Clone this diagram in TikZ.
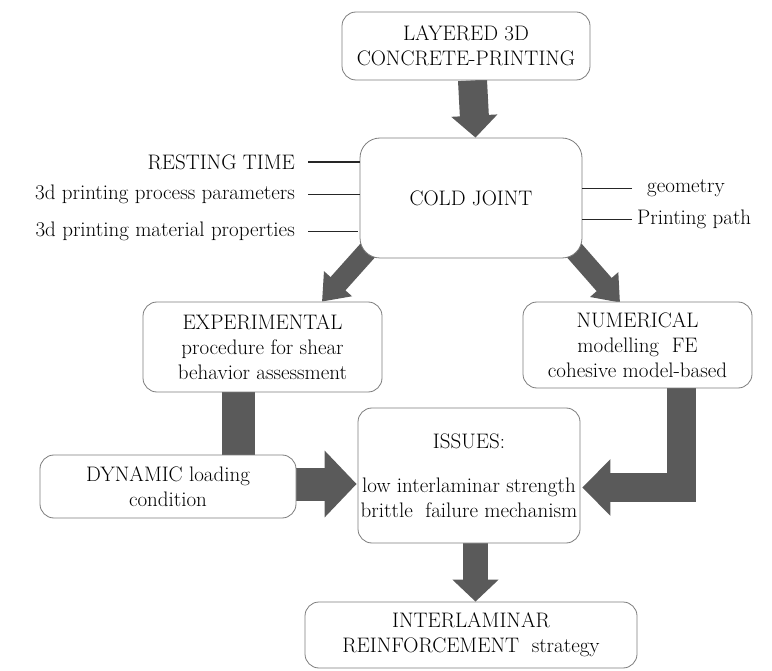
\documentclass[tikz,border=0pt]{standalone}
\usetikzlibrary{arrows.meta,calc}
\definecolor{arrowgray}{RGB}{90,90,90}
\definecolor{boxline}{RGB}{125,125,125}
\newcommand\mytext{\fontsize{21}{25}\selectfont}
\pgfdeclarelayer{bg}
\pgfsetlayers{bg,main}
\begin{document}
\begin{tikzpicture}[x=1pt,y=-1pt,
  box/.style={draw=boxline, line width=0.8pt, fill=white, rounded corners=14pt,
              align=center, inner sep=0pt, font=\mytext},
  fat/.style={draw=arrowgray, line join=miter},
  lab/.style={font=\mytext, inner sep=0pt},
  tie/.style={draw=black!85, line width=0.7pt}]
\useasboundingbox (0,0) rectangle (772,671);

% boxes
\node[box, minimum width=248pt, minimum height=68pt] (top) at (466,46) {LAYERED 3D\\CONCRETE-PRINTING};
\node[box, rounded corners=20pt, minimum width=222pt, minimum height=120pt] (cold) at (471,198) {COLD JOINT};
\node[box, minimum width=239pt, minimum height=90pt] (exp) at (262.5,347) {EXPERIMENTAL\\procedure for shear\\behavior assessment};
\node[box, minimum width=229pt, minimum height=86pt] (num) at (637.5,345) {NUMERICAL\\modelling~~FE\\cohesive model-based};
\node[box, minimum width=256pt, minimum height=63pt] (dyn) at (168,486.5) {DYNAMIC loading\\condition};
\node[box, minimum width=222pt, minimum height=135pt] (iss) at (469,475.5) {ISSUES:\\[19pt]low interlaminar strength\\brittle~ failure mechanism};
\node[box, minimum width=332pt, minimum height=66pt] (inter) at (471,635) {INTERLAMINAR\\REINFORCEMENT~ strategy};

% side labels
\node[lab, anchor=east] (rt) at (295,162) {RESTING TIME};
\node[lab, anchor=east] (pp) at (295,194) {3d printing process parameters};
\node[lab, anchor=east] (mp) at (295,231) {3d printing material properties};
\node[lab, anchor=west] (geo) at (647,188) {geometry};
\node[lab, anchor=west] (path) at (637,219) {Printing path};

\draw[tie, line width=1.4pt] ($(rt.east)+(13,0)$) -- (rt.east -| cold.west);
\draw[tie] ($(pp.east)+(13,0)$) -- (pp.east -| cold.west);
\draw[tie] ($(mp.east)+(13,0)$) -- ($(mp.east -| cold.west)+(-2,0)$);
\draw[tie] ($(geo.west)+(-15,0)$) -- (geo.west -| cold.east);
\draw[tie] ($(path.west)+(-5,0)$) -- (path.west -| cold.east);

% fat arrows behind the boxes
\begin{pgfonlayer}{bg}
\draw[fat, line width=29pt, -{Triangle[width=45pt,length=22pt]}]
  ($(top.south)+(6.5,0)$) -- ($(cold.north)+(4.5,0)$);
\draw[fat, line width=20pt, -{Triangle[width=36pt,length=24pt]}]
  ($(cold.south west)+(10,-10)$) -- ($(exp.north)+(59.5,0)$);
\draw[fat, line width=20pt, -{Triangle[width=36pt,length=24pt]}]
  ($(cold.south east)+(-10,-10)$) -- ($(num.north)+(-17.5,1)$);
\draw[fat, line width=33pt, -{Triangle[width=65pt,length=32pt]}]
  ($(exp.south)+(-24,0)$) |- ($(iss.west)+(-1,8.5)$);
\draw[fat, line width=29pt, -{Triangle[width=55pt,length=28pt]}]
  ($(num.south)+(43.5,0)$) |- ($(iss.east)+(2,12)$);
\draw[fat, line width=25pt, -{Triangle[width=45pt,length=22pt]}]
  ($(iss.south)+(6.5,0)$) -- ($(inter.north)+(4.5,0)$);
\end{pgfonlayer}
\end{tikzpicture}
\end{document}
